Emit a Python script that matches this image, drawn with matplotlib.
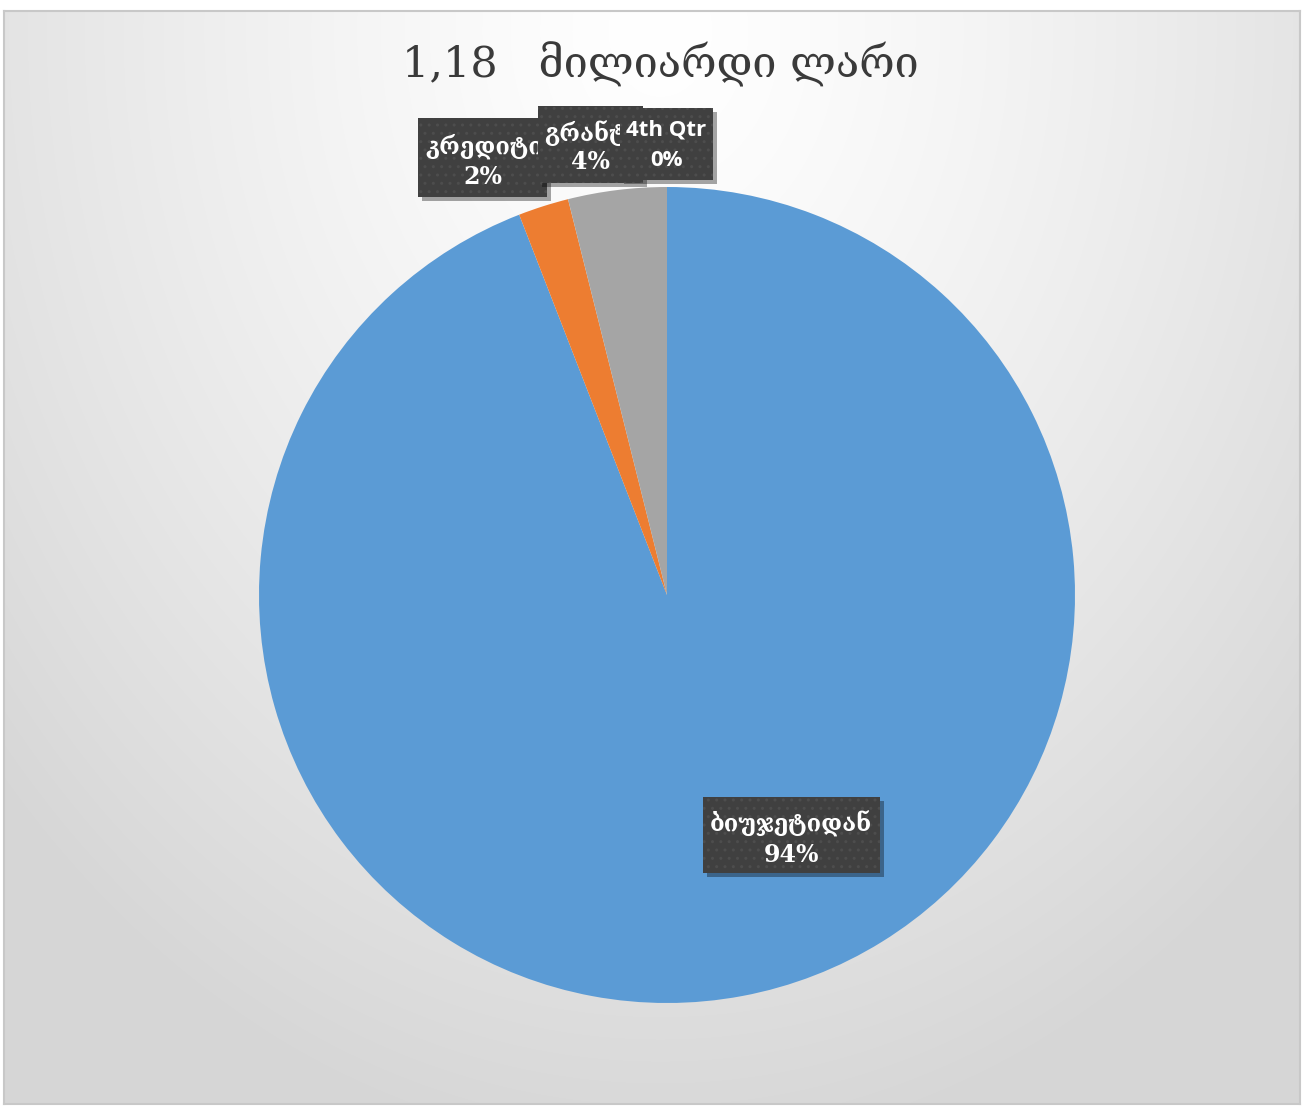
import numpy as np
import matplotlib.pyplot as plt
from matplotlib.patches import Rectangle

# data
categories = ['ბიუჯეტიდან', 'კრედიტი', 'გრანტი', '4th Qtr']
values = [94.1, 2.0, 3.9, 0.0]
pct_labels = ['94%', '2%', '4%', '0%']
colors = ['#5B9BD5', '#ED7D31', '#A5A5A5', '#FFC000']
title = '1,18   მილიარდი ლარი'

W, H = 1304, 1108
fig = plt.figure(figsize=(W / 100, H / 100), dpi=100)
fig.patch.set_facecolor('white')


def px(x, y):
    # pixel (from top-left) -> figure fraction
    return x / W, 1 - y / H


# background frame with soft radial gradient
bg = fig.add_axes([4 / W, 4 / H, (W - 8) / W, (H - 15) / H])
yy, xx = np.mgrid[0:H, 0:W]
r = np.sqrt(((xx - 660) / 900.0) ** 2 + ((yy - 20) / 1150.0) ** 2)
shade = 1.0 - 0.16 * np.clip(r, 0, 1) ** 1.3
bg.imshow(np.dstack([shade, shade, shade]), aspect='auto', extent=[0, 1, 0, 1])
bg.set_xticks([])
bg.set_yticks([])
for s in bg.spines.values():
    s.set_color('#c8c8c8')
    s.set_linewidth(1.5)

# pie
cx, cy, rad = 667, 595, 408
ax = fig.add_axes([(cx - rad) / W, 1 - (cy + rad) / H, 2 * rad / W, 2 * rad / H])
ax.pie(values, colors=colors, startangle=90, counterclock=False,
       wedgeprops=dict(linewidth=0))
ax.set_xlim(-1, 1)
ax.set_ylim(-1, 1)
ax.set_aspect('equal')

fig.text(0.5 + 8 / W, 1 - 64 / H, title, ha='center', va='center',
         fontsize=31, color='#3a3a3a', family=['DejaVu Serif'])

# data label boxes: (x0, y0, x1, y1), first line x / y, second line y, align,
# shadow zorder, box zorder, font, size
boxes = [
    (703, 797, 880, 873, 791, 824, 855, 'center', 5, 5, 'DejaVu Serif', 17),
    (418, 118, 547, 197, 425, 146, 177, 'left', 6, 6, 'DejaVu Serif', 17),
    (538, 106, 643, 183, 544, 134, 162, 'left', 8, 8, 'DejaVu Serif', 17),
    (620, 108, 713, 180, 666, 130, 160, 'center', 7, 10, 'Open Sans', 16),
]

for i, (x0, y0, x1, y1, tx, ty1, ty2, ha, zs, z, fam, fs) in enumerate(boxes):
    fx0, fy1 = px(x0, y1)
    w, h = (x1 - x0) / W, (y1 - y0) / H
    shadow = Rectangle((fx0 + 4 / W, fy1 - 4 / H), w, h, transform=fig.transFigure,
                       facecolor='black', alpha=0.35, edgecolor='none', zorder=zs)
    box = Rectangle((fx0, fy1), w, h, transform=fig.transFigure,
                    facecolor='#404040', edgecolor='#4d4d4d', hatch='..',
                    linewidth=0, zorder=z + 0.1)
    fig.add_artist(shadow)
    fig.add_artist(box)
    mid = (x0 + x1) / 2
    t1 = fig.text(*px(tx, ty1), categories[i], ha=ha, va='center',
                  fontsize=fs, fontweight='bold', color='white',
                  family=[fam], zorder=z + 0.2)
    t1.set_clip_path(box)
    t2 = fig.text(*px(mid, ty2), pct_labels[i], ha='center', va='center',
                  fontsize=fs, fontweight='bold', color='white',
                  family=[fam], zorder=z + 0.2)
    t2.set_clip_path(box)

fig.savefig('out.png', dpi=100)
